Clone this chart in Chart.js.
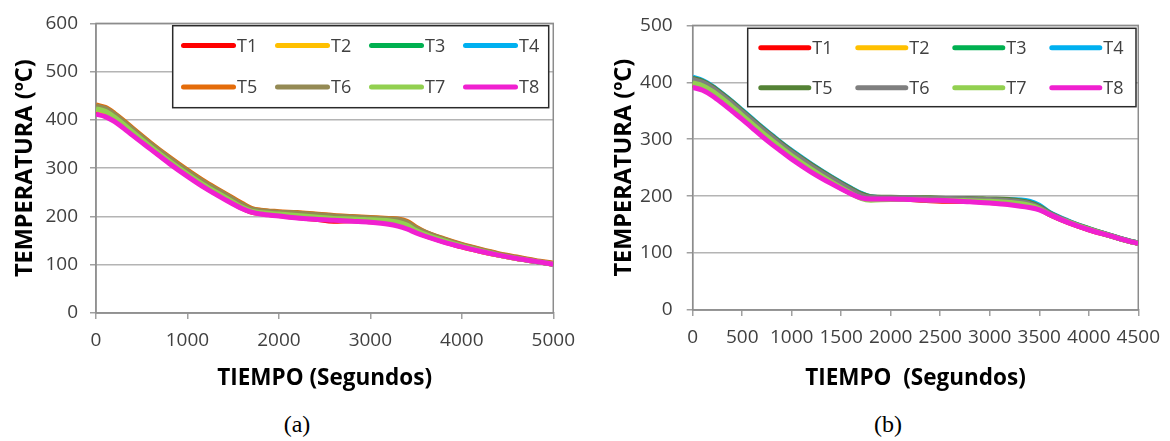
<!DOCTYPE html>
<html>
<head>
<meta charset="utf-8">
<script src="https://cdn.jsdelivr.net/npm/chart.js@4.4.1/dist/chart.umd.min.js"></script>
<style>
  html, body { margin: 0; padding: 0; background: #fff; }
  #wrap { position: relative; width: 1170px; height: 441px; overflow: hidden; }
  .pane { position: absolute; top: 0; width: 585px; height: 400px; }
  .cap { position: absolute; top: 411px; font-family: 'Liberation Serif', serif; font-size: 24px; color: #000; transform: translateX(-50%); }
</style>
</head>
<body>
<div id="wrap">
  <div class="pane" style="left:0"><canvas id="chartA" width="585" height="400"></canvas></div>
  <div class="pane" style="left:585px"><canvas id="chartB" width="585" height="400"></canvas></div>
  <div class="cap" style="left:297px">(a)</div>
  <div class="cap" style="left:888px">(b)</div>
</div>
<script>
// ---- data (a) ----
var timeA = [0,100,200,300,400,600,800,1000,1200,1400,1600,1700,1800,2000,2200,2400,2600,2800,3000,3200,3300,3400,3500,3600,3800,4000,4200,4400,4600,4800,5000];
var T1a = [415,410,400,386,371,341,312,285,260,238,217,209,206,202,198,194,190,191,189,186,182,176,168,160,148,137,128,120,113,107,101];
var T2a = [421,416,404,389,373,342,313,286,261,239,218,210,207,203,200,197,195,193,191,188,185,180,170,162,149,138,128,120,113,107,101];
var T3a = [425,420,408,393,377,346,317,290,265,243,221,212,209,206,204,201,198,196,194,192,190,184,173,164,151,139,129,121,114,107,101];
var T4a = [427,422,410,395,379,348,319,292,267,245,223,213,211,208,206,203,200,198,196,194,193,187,175,166,152,140,130,121,114,107,102];
var T5a = [431,426,414,399,383,352,323,296,271,249,227,217,213,210,208,205,202,200,198,196,195,190,178,168,154,142,132,123,116,109,103];
var T6a = [429,424,412,397,381,350,321,294,269,247,225,215,212,209,207,204,201,199,197,195,194,188,176,167,153,141,131,122,115,108,102];
var T7a = [423,418,406,391,375,344,315,288,263,241,219,211,208,205,202,199,196,195,193,191,188,182,171,163,150,139,129,120,113,107,101];
var T8a = [412,407,397,383,368,339,310,283,258,236,216,209,205,201,197,194,192,190,188,184,180,174,166,159,147,137,128,120,113,107,101];

// ---- data (b) ----
var timeB = [0,100,200,300,400,500,600,700,800,900,1000,1200,1400,1600,1700,1800,2000,2200,2400,2600,2800,3000,3200,3400,3500,3600,3800,4000,4200,4400,4500];
var T1b = [395,390,380,367,353,338,323,308,294,281,268,245,224,205,198,196,195,194,192,191,191,189,186,182,177,168,153,141,131,121,117];
var T2b = [401,396,386,373,359,344,329,314,300,286,273,249,227,207,199,196,196,195,194,194,193,192,190,185,178,169,154,142,131,121,117];
var T3b = [403,398,388,375,361,346,331,316,302,288,275,251,229,209,200,197,196,196,195,195,194,193,191,186,179,169,154,142,131,121,117];
var T4b = [409,403,393,380,366,351,336,321,307,293,280,256,234,214,205,199,197,196,195,193,194,194,194,191,184,172,156,143,132,122,118];
var T5b = [407,402,392,379,365,350,335,320,306,292,279,255,233,213,204,199,198,197,197,196,196,195,194,189,182,171,155,143,132,122,118];
var T6b = [405,400,390,377,363,348,333,318,304,290,277,253,231,211,202,198,197,197,196,196,195,194,192,187,180,170,155,142,132,122,118];
var T7b = [399,394,384,371,357,342,327,312,298,284,271,247,225,205,196,193,194,194,193,193,192,191,189,184,178,168,154,142,131,121,117];
var T8b = [391,386,376,363,349,335,320,305,291,278,265,242,222,204,197,195,195,194,193,192,190,188,185,180,176,168,153,141,131,121,117];

var seriesNames = ['T1','T2','T3','T4','T5','T6','T7','T8'];
var colorsA = ['#ff0000','#ffc000','#00b050','#00b0f0','#e46c0a','#948a54','#92d050','#f020d0'];
var colorsB = ['#ff0000','#ffc000','#00b050','#00b0f0','#548235','#7f7f7f','#92d050','#f020d0'];

Chart.defaults.font.family = "'Open Sans', sans-serif";
Chart.defaults.color = '#404040';

var gridCol = '#b4b4b4';
var axisCol = '#a0a0a0';

// grey box round the plot area
var plotBorder = {
  id: 'plotBorder',
  beforeDatasetsDraw: function(chart) {
    var a = chart.chartArea, ctx = chart.ctx;
    ctx.save();
    ctx.strokeStyle = '#8c8c8c';
    ctx.lineWidth = 1.5;
    ctx.strokeRect(a.left, a.top, a.right - a.left, a.bottom - a.top);
    ctx.restore();
  }
};

// legend in a framed box, 4 columns x 2 rows
var boxLegend = {
  id: 'boxLegend',
  afterDraw: function(chart, args, o) {
    var ctx = chart.ctx;
    ctx.save();
    ctx.fillStyle = '#fff';
    ctx.fillRect(o.left, o.top, o.width, o.height);
    ctx.strokeStyle = '#2a2a2a';
    ctx.lineWidth = 1.5;
    ctx.strokeRect(o.left, o.top, o.width, o.height);
    chart.data.datasets.forEach(function(ds, i) {
      var col = i % 4, row = Math.floor(i / 4);
      var x = o.left + o.padX + col * o.colW;
      var y = o.top + o.rowY[row];
      ctx.strokeStyle = ds.borderColor;
      ctx.lineWidth = 5;
      ctx.lineCap = 'round';
      ctx.beginPath();
      ctx.moveTo(x + 2.5, y);
      ctx.lineTo(x + o.lineLen - 2.5, y);
      ctx.stroke();
      ctx.fillStyle = '#404040';
      ctx.font = "18px 'Open Sans'";
      ctx.textBaseline = 'middle';
      ctx.textAlign = 'left';
      ctx.fillText(ds.label, x + o.lineLen + 1, y + 1);
    });
    ctx.restore();
  }
};

function makeSets(times, series, colors) {
  return series.map(function(vals, i) {
    return {
      label: seriesNames[i],
      data: vals.map(function(v, k) { return { x: times[k], y: v }; }),
      borderColor: colors[i],
      backgroundColor: colors[i],
      borderWidth: 5,
      pointRadius: 0,
      fill: false,
      cubicInterpolationMode: 'monotone',
      order: 8 - i
    };
  });
}

function plain(v) { return String(v); }

function makeChart(id, sets, cfg) {
  return new Chart(document.getElementById(id), {
    type: 'line',
    data: { datasets: sets },
    plugins: [plotBorder, boxLegend],
    options: {
      responsive: false,
      animation: false,
      layout: { padding: { top: cfg.top, right: cfg.right, left: 0, bottom: 0 } },
      plugins: {
        legend: { display: false },
        tooltip: { enabled: false },
        boxLegend: cfg.legend
      },
      scales: {
        x: {
          type: 'linear',
          min: 0, max: cfg.xMax,
          afterFit: function(s) { s.height = cfg.xHeight; },
          ticks: { stepSize: cfg.xStep, autoSkip: false, maxRotation: 0, padding: 10, font: { size: 19 }, color: '#404040', callback: plain },
          grid: { drawOnChartArea: false, drawTicks: true, tickLength: 6, tickColor: axisCol, lineWidth: 1.5 },
          border: { color: axisCol, width: 1.5 },
          title: { display: true, text: cfg.xTitle, color: '#000', font: { size: 22.5, weight: 'bold' }, padding: { top: 0, bottom: 8 } }
        },
        y: {
          min: 0, max: cfg.yMax,
          afterFit: function(s) { s.width = cfg.yWidth; },
          ticks: { stepSize: 100, padding: cfg.yPad, font: { size: 19 }, color: '#404040', callback: plain },
          grid: { color: gridCol, lineWidth: 1.5, drawTicks: true, tickLength: 6, tickColor: axisCol },
          border: { color: axisCol, width: 1.5 },
          title: { display: true, text: 'TEMPERATURA (ºC)', color: '#000', font: { size: 23.5, weight: 'bold' }, padding: { top: cfg.yTitlePad, bottom: 0 } }
        }
      }
    }
  });
}

makeChart('chartA', makeSets(timeA, [T1a,T2a,T3a,T4a,T5a,T6a,T7a,T8a], colorsA), {
  top: 19, right: 31, xMax: 5000, xStep: 1000, yMax: 600, xHeight: 87, yWidth: 96, yPad: 12, yTitlePad: 11,
  xTitle: 'TIEMPO (Segundos)',
  legend: { left: 172.7, top: 25.7, width: 376, height: 82, padX: 8.3, colW: 94, lineLen: 55, rowY: [19.8, 61.3] }
});

makeChart('chartB', makeSets(timeB, [T1b,T2b,T3b,T4b,T5b,T6b,T7b,T8b], colorsB), {
  top: 20, right: 30, xMax: 4500, xStep: 500, yMax: 500, xHeight: 90, yWidth: 107.7, yPad: 14, yTitlePad: 25,
  xTitle: 'TIEMPO  (Segundos)',
  legend: { left: 162.7, top: 28.3, width: 388.3, height: 78.4, padX: 10.6, colW: 97, lineLen: 53, rowY: [19.4, 59.4] }
});
</script>
</body>
</html>
